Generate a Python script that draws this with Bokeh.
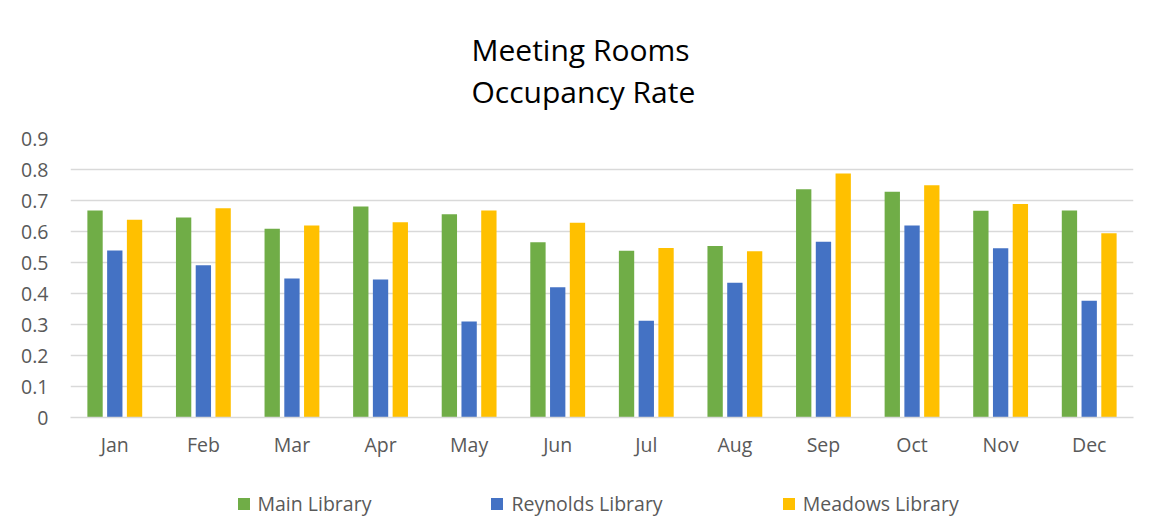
from bokeh.plotting import figure
from bokeh.layouts import column
from bokeh.models import ColumnDataSource, FactorRange, FixedTicker, Title, Range1d
from bokeh.transform import dodge
from bokeh.embed import file_html
from bokeh.resources import INLINE

months = ["Jan", "Feb", "Mar", "Apr", "May", "Jun", "Jul", "Aug", "Sep", "Oct", "Nov", "Dec"]
main_library = [0.668, 0.645, 0.609, 0.681, 0.656, 0.565, 0.538, 0.553, 0.736, 0.728, 0.667, 0.668]
reynolds_library = [0.539, 0.491, 0.448, 0.445, 0.310, 0.420, 0.312, 0.435, 0.567, 0.619, 0.546, 0.377]
meadows_library = [0.638, 0.675, 0.619, 0.630, 0.668, 0.628, 0.547, 0.536, 0.787, 0.749, 0.689, 0.594]
series_names = ["Main Library", "Reynolds Library", "Meadows Library"]
series_cols = ["main", "reynolds", "meadows"]
series_colors = ["#70AD47", "#4472C4", "#FFC000"]
y_ticks = [0, 0.1, 0.2, 0.3, 0.4, 0.5, 0.6, 0.7, 0.8, 0.9]
y_tick_labels = ["0", "0.1", "0.2", "0.3", "0.4", "0.5", "0.6", "0.7", "0.8", "0.9"]
title_text = "Meeting Rooms\nOccupancy Rate"

FONT = "Open Sans"
GRAY_TEXT = "#595959"
GRID = "#d9d9d9"
W = 1142

source = ColumnDataSource(dict(month=months, main=main_library,
                               reynolds=reynolds_library, meadows=meadows_library))
x_range = FactorRange(*months, range_padding=0)

p = figure(x_range=x_range, y_range=(0, 0.9),
           width=W, height=465, output_backend="svg", toolbar_location=None,
           min_border_left=70, min_border_right=9, min_border_top=138, min_border_bottom=48)
p.title.visible = False
p.outline_line_color = None

p.add_layout(Title(text=title_text, align="left", offset=401, standoff=52,
                   text_line_height=1.045, text_font=FONT,
                   text_font_size="30px", text_font_style="normal", text_color="#000000"), "above")

w = 0.173
offsets = [-0.223, 0.0, 0.223]
for col, off, color in zip(series_cols, offsets, series_colors):
    p.vbar(x=dodge("month", off, range=x_range), top=col, width=w, source=source,
           fill_color=color, line_color=None)

p.xgrid.grid_line_color = None
p.ygrid.grid_line_color = GRID
p.ygrid.grid_line_width = 1.3

p.yaxis.ticker = FixedTicker(ticks=y_ticks)
p.yaxis.major_label_overrides = {t: l for t, l in zip(y_ticks, y_tick_labels)}
p.yaxis.axis_line_color = None
p.yaxis.major_tick_line_color = None
p.yaxis.minor_tick_line_color = None
p.yaxis.major_tick_out = 0
p.yaxis.major_tick_in = 0
p.yaxis.major_label_standoff = 22
p.yaxis.major_label_text_font = FONT
p.yaxis.major_label_text_font_size = "19.5px"
p.yaxis.major_label_text_color = GRAY_TEXT

p.xaxis.axis_line_color = GRID
p.xaxis.axis_line_width = 1.3
p.xaxis.major_tick_line_color = None
p.xaxis.minor_tick_line_color = None
p.xaxis.major_tick_out = 0
p.xaxis.major_tick_in = 0
p.xaxis.major_label_standoff = 13
p.xaxis.major_label_text_font = FONT
p.xaxis.major_label_text_font_size = "19.5px"
p.xaxis.major_label_text_color = GRAY_TEXT

# legend strip below the chart (its bars fall outside the visible y-range; only the legend shows)
lf = figure(width=W, height=54, x_range=x_range, y_range=Range1d(1, 2), output_backend="svg",
            toolbar_location=None, min_border=0)
lf.title.visible = False
lf.axis.visible = False
lf.grid.visible = False
lf.outline_line_color = None
for col, off, color, name in zip(series_cols, offsets, series_colors, series_names):
    lf.vbar(x=dodge("month", off, range=x_range), top=col, width=w, source=source,
            fill_color=color, line_color=None, legend_label=name)

lg = lf.legend[0]
lg.orientation = "horizontal"
lg.location = (165.5, 2)
lg.spacing = 118
lg.padding = 0
lg.margin = 0
lg.glyph_width = 15
lg.glyph_height = 15
lg.label_standoff = 7
lg.label_height = 15
lg.label_text_font = FONT
lg.label_text_font_size = "19.5px"
lg.label_text_color = GRAY_TEXT
lg.border_line_color = None
lg.background_fill_alpha = 0

layout = column(p, lf, spacing=0)
open("out.html", "w").write(file_html(layout, INLINE))
